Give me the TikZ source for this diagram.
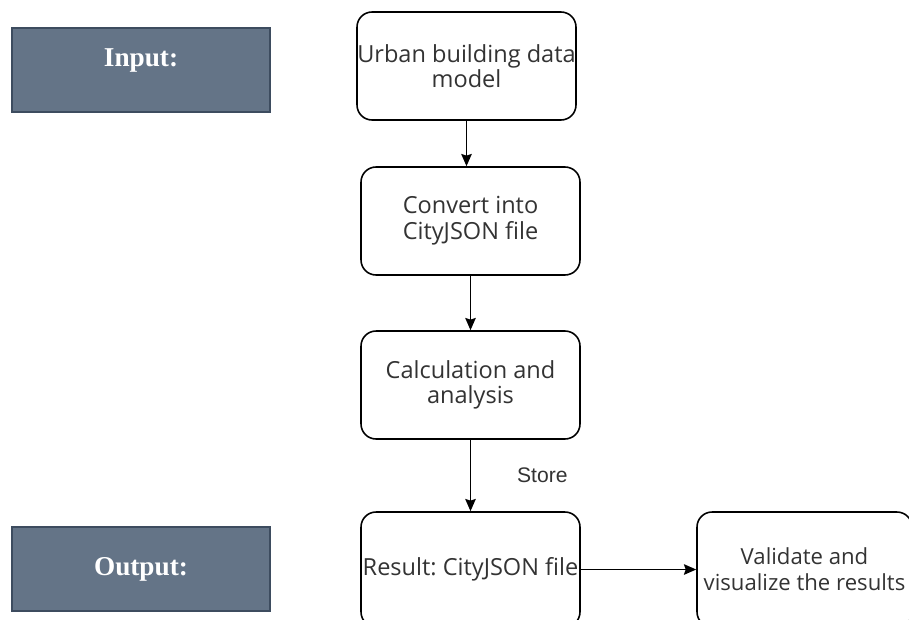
\documentclass[tikz,border=0pt]{standalone}
\usepackage{fontspec}
\setmainfont{Open Sans}
\newfontfamily\labelfont{Liberation Sans}
\newfontfamily\tagfont{Liberation Serif}
\usetikzlibrary{arrows.meta, positioning}
\definecolor{tagSlate}{HTML}{647487}
\definecolor{tagEdge}{HTML}{3D4C5F}
\definecolor{txtGray}{HTML}{333333}
\frenchspacing

\begin{document}
\begin{tikzpicture}[
    x=0.02cm, y=-0.02cm,
    proc/.style={rectangle, rounded corners=0.3cm, draw, line width=0.9pt, minimum width=4.38cm, minimum height=2.16cm, align=center, text=txtGray, font=\fontsize{13.4}{14.6}\selectfont, inner sep=0pt},
    tag/.style={rectangle, draw=tagEdge, line width=1.2pt, fill=tagSlate, minimum width=5.16cm, minimum height=1.68cm, text=white, font=\tagfont\bfseries\fontsize{15.5}{17}\selectfont},
    flow/.style={-{Stealth[length=7pt, width=6pt, inset=1pt]}, line width=0.9pt},
]
    \useasboundingbox (0,0) rectangle (909,619);
    \clip (0,0) rectangle (909,619);

    \node[tag, text depth=0.5cm] (input) at (141,70) {Input:};
    \node[tag] (output) at (141,569) {Output:};

    \node[proc] (model) at (466.5,66) {Urban building data\\model};
    \node[proc] (convert) at (470.5,221) {Convert into\\CityJSON file};
    \node[proc] (calc) at (470.5,385) {Calculation and\\analysis};
    \node[proc, minimum height=2.3cm] (result) at (470.5,569.5) {Result: CityJSON file};
    \node[proc, minimum height=2.3cm, minimum width=4.3cm, font=\fontsize{12.6}{14.6}\selectfont] (check) at (804.5,569.5) {Validate and\\visualize the results};

    \draw[flow] (model.south) -- (model.south |- convert.north);
    \draw[flow] (convert) -- (calc);
    \draw[flow] (calc) -- node[right=0.8cm, text=txtGray, font=\labelfont\fontsize{12}{14}\selectfont] {Store} (result);
    \draw[flow] (result) -- (check);
\end{tikzpicture}
\end{document}
